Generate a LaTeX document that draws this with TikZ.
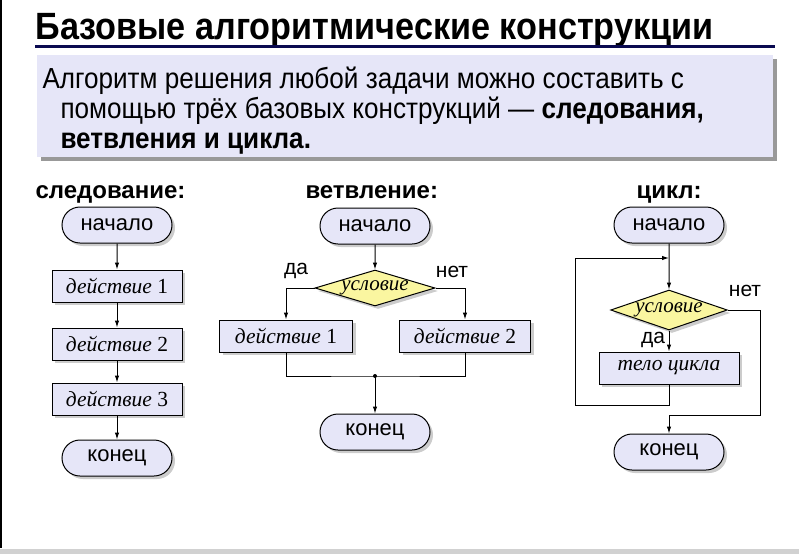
\documentclass[tikz,border=0pt]{standalone}
\usepackage{fontspec}
\setmainfont{Liberation Sans}
\newfontfamily\narrowfont{Liberation Sans}[FakeStretch=0.9]
\newfontfamily\actfont{Liberation Serif}
\usetikzlibrary{shapes.misc,shapes.geometric,shadows,arrows.meta}

\definecolor{boxfill}{RGB}{230,230,248}
\definecolor{condfill}{RGB}{250,246,160}
\definecolor{titleline}{RGB}{10,10,80}

\tikzset{
  shade/.style={drop shadow={shadow xshift=3pt,shadow yshift=-3pt,fill=black!40}},
  term/.style={rounded rectangle,draw,fill=boxfill,shade,minimum width=110,minimum height=36,
    inner sep=0pt,font=\fontsize{22}{26}\selectfont},
  act/.style={rectangle,draw,fill=boxfill,shade,minimum width=130,minimum height=32,
    inner sep=0pt,font=\actfont\fontsize{21.5}{24}\selectfont},
  cond/.style={diamond,draw,fill=condfill,shade,aspect=3.4,inner sep=0pt,
    minimum width=120,minimum height=36,font=\actfont\itshape\fontsize{21}{22}\selectfont},
  lab/.style={font=\fontsize{21}{24}\selectfont,inner sep=0pt},
  head/.style={font=\bfseries\fontsize{24}{28}\selectfont,anchor=base west,inner sep=0pt},
  flow/.style={-{Latex[length=7pt,width=4.5pt]}},
}
\newcommand{\deistvie}[1]{{\itshape действие} #1}

\begin{document}
\begin{tikzpicture}[x=1pt,y=-1pt,line width=1pt]
\useasboundingbox (0,0) rectangle (799,554);
\draw[line width=1.5pt] (1,0) -- (1,548);
\fill[black!18] (0,549) rectangle (799,554);

% title and text
\node[anchor=base west,inner sep=0pt,font=\narrowfont\bfseries\fontsize{38}{42}\selectfont] (title) at (35,39)
  {Базовые алгоритмические конструкции};
\draw[titleline,line width=3pt] (35,46) -- (775,46);
\fill[black!40] (41,59) rectangle (777,161);
\fill[boxfill] (37,55) rectangle (773,157);
\begin{scope}[every node/.style={anchor=base west,inner sep=0pt,font=\narrowfont\fontsize{29}{30}\selectfont}]
  \node (p1) at (42,88) {Алгоритм решения любой задачи можно составить с};
  \node (p2) at (60,118) {помощью трёх базовых конструкций — \textbf{следования,}};
  \node (p3) at (60,148) {\textbf{ветвления и цикла.}};
\end{scope}

% sequence
\node[head] (h1) at (35,198) {следование:};
\node[term] (n1) at (117,225) {начало};
\node[act]  (a1) at (117,286) {\deistvie{1}};
\node[act]  (a2) at (117,344) {\deistvie{2}};
\node[act]  (a3) at (117,399) {\deistvie{3}};
\node[term] (k1) at (117,458) {конец};
\draw[flow] (n1) -- (a1);
\draw[flow] (a1) -- (a2);
\draw[flow] (a2) -- (a3);
\draw[flow] (a3) -- (k1);

% branching
\node[head] (h2) at (305,198) {ветвление:};
\node[term] (n2) at (375,226) {начало};
\node[cond] (c2) at (375,288) {условие};
\node[act,minimum width=133] (b1) at (286,336) {\deistvie{1}};
\node[act,minimum width=131] (b2) at (465,336) {\deistvie{2}};
\coordinate (j2) at (375,376);
\node[term] (k2) at (375,432) {конец};
\node[lab] (yes2) at (296,271) {да};
\node[lab] (no2) at (452,272) {нет};
\draw[flow] (n2) -- (c2);
\draw[flow] (c2.west) -| (b1.north);
\draw[flow] (c2.east) -| (b2.north);
\draw (b1.south) |- (j2) -| (b2.south);
\fill (j2) circle (2pt);
\draw[flow] (j2) -- (k2);

% loop
\node[head] (h3) at (636,198) {цикл:};
\node[term] (n3) at (669,225) {начало};
\node[cond,minimum width=110,minimum height=40] (c3) at (669,310) {условие};
\node[act,minimum width=140,font=\actfont\itshape\fontsize{21.5}{24}\selectfont] (t3) at (669,368) {тело цикла};
\node[term] (k3) at (669,452) {конец};
\node[lab] (yes3) at (653,340) {да};
\node[lab] (no3) at (745,291) {нет};
\coordinate (back3) at (669,258);
\coordinate (low3) at (575,405);
\coordinate (out3) at (760,415);
\draw[flow] (n3) -- (c3);
\draw[flow] (c3) -- (t3);
\draw[flow] (t3.south) |- (low3) |- (back3);
\draw[flow] (c3.east) -| (out3) -| (k3.north);
\end{tikzpicture}
\end{document}
